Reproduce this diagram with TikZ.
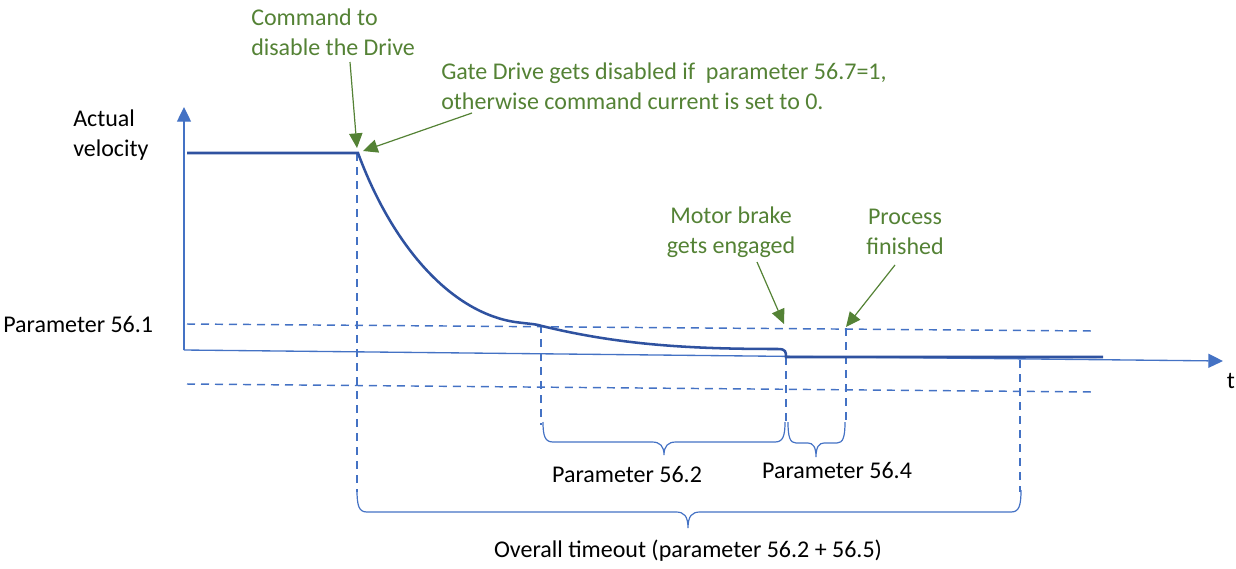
\documentclass[tikz,border=0pt]{standalone}
\usepackage{fontspec}
\setmainfont{Carlito}
\usetikzlibrary{arrows.meta}
\definecolor{ogreen}{HTML}{548235}
\definecolor{oblue}{HTML}{4472C4}
\definecolor{dblue}{HTML}{2F52A0}
\begin{document}
\begin{tikzpicture}[x=0.75pt,y=-0.75pt,
 lbl/.style={font=\fontsize{18}{22.5}\selectfont, inner sep=0pt, align=left},
 glbl/.style={lbl, text=ogreen},
 garrow/.style={draw=ogreen, line width=0.9pt, -{Triangle[length=11pt,width=10pt]}},
 axisline/.style={draw=oblue, line width=1pt, -{Triangle[length=11pt,width=10.5pt]}},
 guide/.style={draw=oblue, line width=1.1pt, dash pattern=on 6pt off 4.5pt},
 vel/.style={draw=dblue, line width=1.9pt},
 bracepath/.style={draw=oblue, line width=0.9pt}]
\useasboundingbox (0,0) rectangle (1236,568);

% axes
\coordinate (O) at (184,350);
\coordinate (ytip) at (184,107);
\coordinate (xtip) at (1223,361);
\draw[axisline] (O) -- (ytip);
\draw[axisline] (O) -- (xtip);

% dashed limits
\coordinate (u1) at (187,324); \coordinate (u2) at (1093,331);
\coordinate (l1) at (187,384); \coordinate (l2) at (1093,392);
\draw[guide] (u1) -- (u2);
\draw[guide] (l1) -- (l2);

% vertical dashed markers
\coordinate (v1t) at (357,153); \coordinate (v1b) at (357,492);
\coordinate (v2t) at (541,325); \coordinate (v2b) at (541,425);
\coordinate (v3t) at (786,357); \coordinate (v3b) at (786,425);
\coordinate (v4t) at (846,328); \coordinate (v4b) at (846,425);
\coordinate (v5t) at (1020,360); \coordinate (v5b) at (1020,492);
\draw[guide] (v1t) -- (v1b);
\draw[guide] (v2t) -- (v2b);
\draw[guide] (v3t) -- (v3b);
\draw[guide] (v4t) -- (v4b);
\draw[guide] (v5t) -- (v5b);

% velocity curve
\draw[vel] (187,153) -- (358,153)
  .. controls (392,245) and (450,312) .. (515,322)
  .. controls (530,324) and (536,324) .. (542,326)
  .. controls (620,345) and (690,349) .. (778,349)
  .. controls (786,349) and (786,352) .. (786,357) -- (1103,357);

% braces
\draw[bracepath] (543,422) .. controls (543,436) and (545,442) .. (553,442) -- (652,442)
  .. controls (660,442) and (664,446) .. (664,455)
  .. controls (664,446) and (668,442) .. (676,442) -- (775,442)
  .. controls (783,442) and (785,436) .. (785,422);
\draw[bracepath] (788,422) .. controls (788,437) and (790,443) .. (796,443) -- (808,443)
  .. controls (813,443) and (816,447) .. (816,457)
  .. controls (816,447) and (819,443) .. (824,443) -- (837,443)
  .. controls (843,443) and (845,437) .. (845,422);
\draw[bracepath] (357,490) .. controls (357,506) and (359,512) .. (367,512) -- (676,512)
  .. controls (684,512) and (688,516) .. (688,528)
  .. controls (688,516) and (692,512) .. (700,512) -- (1011,512)
  .. controls (1019,512) and (1021,506) .. (1021,490);

% black labels
\node[lbl, anchor=west] (av) at (73,135) {Actual\\velocity};
\node[lbl, anchor=west] (p561) at (3,324) {Parameter 56.1};
\node[lbl] (tlab) at (1231,381) {t};
\node[lbl] (p562) at (627,474) {Parameter 56.2};
\node[lbl] (p564) at (837,470) {Parameter 56.4};
\node[lbl] (ovr) at (688,551) {Overall timeout (parameter 56.2 + 56.5)};

% green annotations
\node[glbl, anchor=west] (cmd) at (251,32) {Command to\\disable the Drive};
\node[glbl, anchor=west] (gate) at (441,86) {Gate Drive gets disabled if\ \ parameter 56.7=1,\\otherwise command current is set to 0.};
\node[glbl, align=center] (brake) at (731,232) {Motor brake\\gets engaged};
\node[glbl, align=center] (proc) at (905,232) {Process\\finished};

\coordinate (a1s) at (350,62); \coordinate (a1e) at (357,148);
\coordinate (a2s) at (472,113); \coordinate (a2e) at (363,151);
\coordinate (a3s) at (757,262); \coordinate (a3e) at (784,324);
\coordinate (a4s) at (895,265); \coordinate (a4e) at (846,327);
\draw[garrow] (a1s) -- (a1e);
\draw[garrow] (a2s) -- (a2e);
\draw[garrow] (a3s) -- (a3e);
\draw[garrow] (a4s) -- (a4e);
\end{tikzpicture}
\end{document}
